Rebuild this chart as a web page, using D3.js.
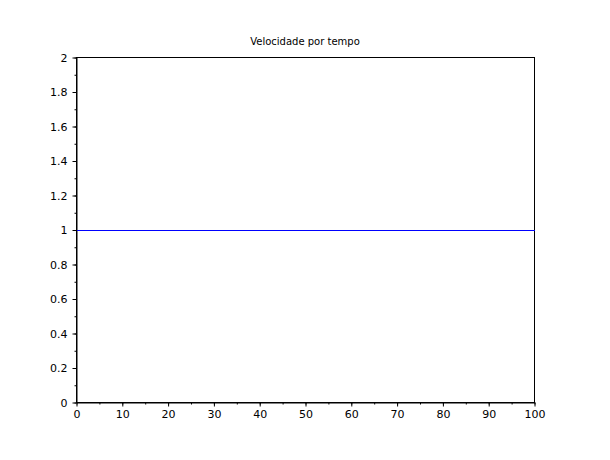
<!DOCTYPE html>
<html><head><meta charset="utf-8">
<script src="https://cdn.jsdelivr.net/npm/d3@7"></script>
<style>body{margin:0;background:#fff}</style>
</head><body>
<script>
const WIDTH = 610, HEIGHT = 460;
const margin = {top: 57, right: 76, bottom: 58, left: 76};

const tempo = [0, 100];
const velocidade = [1, 1];
const xTicks = [0, 10, 20, 30, 40, 50, 60, 70, 80, 90, 100];
const yTicks = [0, 0.2, 0.4, 0.6, 0.8, 1, 1.2, 1.4, 1.6, 1.8, 2];

const svg = d3.select("body").append("svg").attr("width", WIDTH).attr("height", HEIGHT);
const w = WIDTH - margin.left - margin.right;
const h = HEIGHT - margin.top - margin.bottom;
const g = svg.append("g").attr("transform", "translate(" + (margin.left + 0.5) + "," + (margin.top + 0.5) + ")");

const x = d3.scaleLinear().domain([0, 100]).range([0, w]);
const y = d3.scaleLinear().domain([0, 2]).range([h, 0]);

// minor ticks
g.append("g").attr("transform", "translate(0," + h + ")")
  .call(d3.axisBottom(x).tickValues(d3.range(0, 101, 5)).tickSize(2).tickFormat(""))
  .call(a => a.select(".domain").remove());
g.append("g")
  .call(d3.axisLeft(y).tickValues(d3.range(0, 2.01, 0.1)).tickSize(2).tickFormat(""))
  .call(a => a.select(".domain").remove());

const fmt = d => d3.format("~g")(d);
g.append("g").attr("transform", "translate(0," + h + ")")
  .call(d3.axisBottom(x).tickValues(xTicks).tickSize(4).tickSizeOuter(0).tickPadding(4).tickFormat(fmt))
  .call(a => a.selectAll("text").attr("font-size", 11).attr("font-family", "DejaVu Sans").attr("fill", "#000"));
g.append("g")
  .call(d3.axisLeft(y).tickValues(yTicks).tickSize(4).tickSizeOuter(0).tickPadding(5).tickFormat(fmt))
  .call(a => a.selectAll("text").attr("font-size", 11).attr("font-family", "DejaVu Sans").attr("fill", "#000"));

g.append("rect").attr("width", w).attr("height", h).attr("fill", "none").attr("stroke", "#000");

const line = d3.line().x((d, i) => x(tempo[i])).y(d => Math.round(y(d)));
g.append("path").datum(velocidade).attr("d", line).attr("fill", "none")
  .attr("stroke", "#0000ff").attr("stroke-width", 1).attr("shape-rendering", "crispEdges");

svg.append("text").attr("x", margin.left + w / 2).attr("y", 45).attr("text-anchor", "middle")
  .attr("font-family", "DejaVu Sans").attr("font-size", 10).text("Velocidade por tempo");
</script>
</body></html>
